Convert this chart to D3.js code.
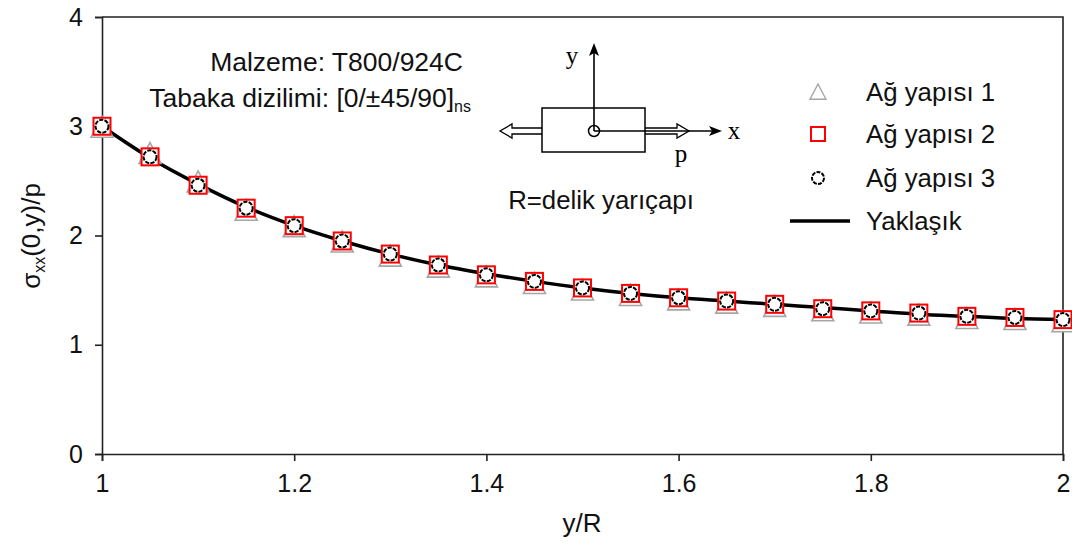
<!DOCTYPE html>
<html>
<head>
<meta charset="utf-8">
<script src="https://cdn.jsdelivr.net/npm/d3@7"></script>
<style>
  html, body { margin: 0; padding: 0; background: #fff; }
  svg { display: block; font-family: "Liberation Sans", Arial, sans-serif; }
</style>
</head>
<body>
<svg id="chart" width="1072" height="543"></svg>
<script>
// ---- data ----
const xValues = [1.00, 1.05, 1.10, 1.15, 1.20, 1.25, 1.30, 1.35, 1.40, 1.45, 1.50,
                 1.55, 1.60, 1.65, 1.70, 1.75, 1.80, 1.85, 1.90, 1.95, 2.00];
const mesh1 = [2.99, 2.75, 2.49, 2.23, 2.08, 1.94, 1.81, 1.71, 1.62, 1.56, 1.50,
               1.45, 1.41, 1.38, 1.35, 1.31, 1.29, 1.27, 1.24, 1.23, 1.21];
const mesh2 = [3.00, 2.72, 2.46, 2.25, 2.09, 1.95, 1.83, 1.73, 1.64, 1.58, 1.52,
               1.47, 1.43, 1.40, 1.37, 1.33, 1.31, 1.29, 1.26, 1.25, 1.23];
const mesh3 = [3.00, 2.72, 2.46, 2.25, 2.09, 1.95, 1.83, 1.73, 1.64, 1.58, 1.52,
               1.47, 1.43, 1.40, 1.37, 1.33, 1.31, 1.29, 1.26, 1.25, 1.23];
const approx = [3.00, 2.71, 2.47, 2.26, 2.09, 1.95, 1.83, 1.73, 1.65, 1.58, 1.52,
                1.47, 1.43, 1.40, 1.37, 1.34, 1.31, 1.28, 1.26, 1.24, 1.23];
const xTicks = [1, 1.2, 1.4, 1.6, 1.8, 2];
const yTicks = [0, 1, 2, 3, 4];
const legendLabels = ["Ağ yapısı 1", "Ağ yapısı 2", "Ağ yapısı 3", "Yaklaşık"];

// ---- layout ----
const svg = d3.select("#chart");
const pLeft = 102, pRight = 1063, pTop = 17, pBottom = 454;
const x = d3.scaleLinear().domain([1, 2]).range([pLeft, pRight]);
const y = d3.scaleLinear().domain([0, 4]).range([pBottom, pTop]);
const axisColor = "#222";
const fontSize = 25;

// frame (top & right)
svg.append("path")
  .attr("d", `M${pLeft},${pTop}H${pRight}V${pBottom}`)
  .attr("fill", "none").attr("stroke", axisColor).attr("stroke-width", 1.6);

// axes
const xAxis = svg.append("g").attr("transform", `translate(0,${pBottom})`)
  .call(d3.axisBottom(x).tickValues(xTicks).tickSize(7).tickPadding(13)
    .tickFormat(d => d3.format("~g")(d)));
const yAxis = svg.append("g").attr("transform", `translate(${pLeft},0)`)
  .call(d3.axisLeft(y).tickValues(yTicks).tickSize(7).tickPadding(12)
    .tickFormat(d3.format("d")));
[xAxis, yAxis].forEach(g => {
  g.select(".domain").attr("stroke", axisColor).attr("stroke-width", 1.6);
  g.selectAll(".tick line").attr("stroke", axisColor).attr("stroke-width", 1.6);
  g.selectAll(".tick text").attr("fill", "#111")
    .style("font-family", '"Liberation Sans", Arial, sans-serif')
    .style("font-size", fontSize + "px");
});

// axis titles
svg.append("text").attr("x", 582).attr("y", 532).attr("text-anchor", "middle")
  .attr("font-size", 26).attr("fill", "#111").text("y/R");
const yt = svg.append("text").attr("transform", "translate(40,236) rotate(-90)")
  .attr("text-anchor", "middle").attr("font-size", 26).attr("fill", "#111");
yt.append("tspan").text("σ");
yt.append("tspan").attr("font-size", 16).attr("dy", 5).text("xx");
yt.append("tspan").attr("dy", -5).text("(0,y)/p");

// ---- series ----
const pts = (vals) => xValues.map((xv, i) => [x(xv), y(vals[i])]);

svg.append("path")
  .attr("d", d3.line().curve(d3.curveMonotoneX)(pts(approx)))
  .attr("fill", "none").attr("stroke", "#000").attr("stroke-width", 3.5);

const triPath = (cx, cy, s) => `M${cx},${cy - s}L${cx + s},${cy + s * 0.9}L${cx - s},${cy + s * 0.9}Z`;
svg.append("g").selectAll("path").data(pts(mesh1)).join("path")
  .attr("d", d => triPath(d[0], d[1], 11))
  .attr("fill", "#fff").attr("stroke", "#a6a6a6").attr("stroke-width", 1.6);

svg.append("g").selectAll("rect").data(pts(mesh2)).join("rect")
  .attr("x", d => d[0] - 8.5).attr("y", d => d[1] - 8.5)
  .attr("width", 17).attr("height", 17)
  .attr("fill", "#fff").attr("stroke", "#ff0000").attr("stroke-width", 2);

svg.append("g").selectAll("circle").data(pts(mesh3)).join("circle")
  .attr("cx", d => d[0]).attr("cy", d => d[1]).attr("r", 6.5)
  .attr("fill", "#fff").attr("stroke", "#000").attr("stroke-width", 2)
  .attr("stroke-dasharray", "4.2,1.2");

// ---- legend ----
const lgX = 818, lgTextX = 866, lgY = [92, 134, 178, 221];
const lg = svg.append("g");
lg.append("path").attr("d", triPath(lgX, lgY[0], 8))
  .attr("fill", "#fff").attr("stroke", "#a6a6a6").attr("stroke-width", 1.4);
lg.append("rect").attr("x", lgX - 7).attr("y", lgY[1] - 7).attr("width", 14).attr("height", 14)
  .attr("fill", "#fff").attr("stroke", "#ff0000").attr("stroke-width", 2);
lg.append("circle").attr("cx", lgX).attr("cy", lgY[2]).attr("r", 6)
  .attr("fill", "#fff").attr("stroke", "#000").attr("stroke-width", 2)
  .attr("stroke-dasharray", "4,1.2");
lg.append("line").attr("x1", 790).attr("x2", 850).attr("y1", lgY[3]).attr("y2", lgY[3])
  .attr("stroke", "#000").attr("stroke-width", 3.5);
lg.selectAll("text").data(legendLabels).join("text")
  .attr("x", lgTextX).attr("y", (d, i) => lgY[i] + 9)
  .attr("font-size", 25.8).attr("fill", "#111").text(d => d);

// ---- annotations ----
svg.append("text").attr("x", 463).attr("y", 71).attr("text-anchor", "end")
  .attr("font-size", 26.5).attr("fill", "#111").text("Malzeme: T800/924C");
const tb = svg.append("text").attr("x", 471).attr("y", 107).attr("text-anchor", "end")
  .attr("font-size", 26.5).attr("fill", "#111");
tb.append("tspan").text("Tabaka dizilimi: [0/±45/90]");
tb.append("tspan").attr("font-size", 16).attr("dy", 5).text("ns");

svg.append("text").attr("x", 601).attr("y", 209).attr("text-anchor", "middle")
  .attr("font-size", 25.8).attr("fill", "#111").text("R=delik yarıçapı");

// diagram
const dg = svg.append("g").attr("stroke", "#000").attr("fill", "none");
dg.append("path").attr("d", "M542,128H512V124L500,131L512,138V134H542")
  .attr("fill", "#fff").attr("stroke-width", 1.3);
dg.append("path").attr("d", "M645,128H677V124L689,131L677,138V134H645")
  .attr("fill", "#fff").attr("stroke-width", 1.3);
dg.append("rect").attr("x", 542).attr("y", 108).attr("width", 103).attr("height", 44)
  .attr("fill", "#fff").attr("stroke-width", 1.5);
dg.append("circle").attr("cx", 594).attr("cy", 131).attr("r", 5.5).attr("stroke-width", 1.5);
dg.append("line").attr("x1", 594).attr("y1", 131).attr("x2", 594).attr("y2", 52).attr("stroke-width", 1.6);
dg.append("path").attr("d", "M594,43L589,56L594,53L599,56Z").attr("fill", "#000").attr("stroke", "none");
dg.append("line").attr("x1", 594).attr("y1", 131).attr("x2", 712).attr("y2", 131).attr("stroke-width", 1.6);
dg.append("path").attr("d", "M722,131L709,126L712,131L709,136Z").attr("fill", "#000").attr("stroke", "none");
const serif = '"Liberation Serif", "DejaVu Serif", serif';
svg.append("text").attr("x", 572).attr("y", 64).attr("text-anchor", "middle")
  .style("font-family", serif).attr("font-size", 25).text("y");
svg.append("text").attr("x", 734).attr("y", 139).attr("text-anchor", "middle")
  .style("font-family", serif).attr("font-size", 25).text("x");
svg.append("text").attr("x", 681).attr("y", 162).attr("text-anchor", "middle")
  .style("font-family", serif).attr("font-size", 25).text("p");
</script>
</body>
</html>
